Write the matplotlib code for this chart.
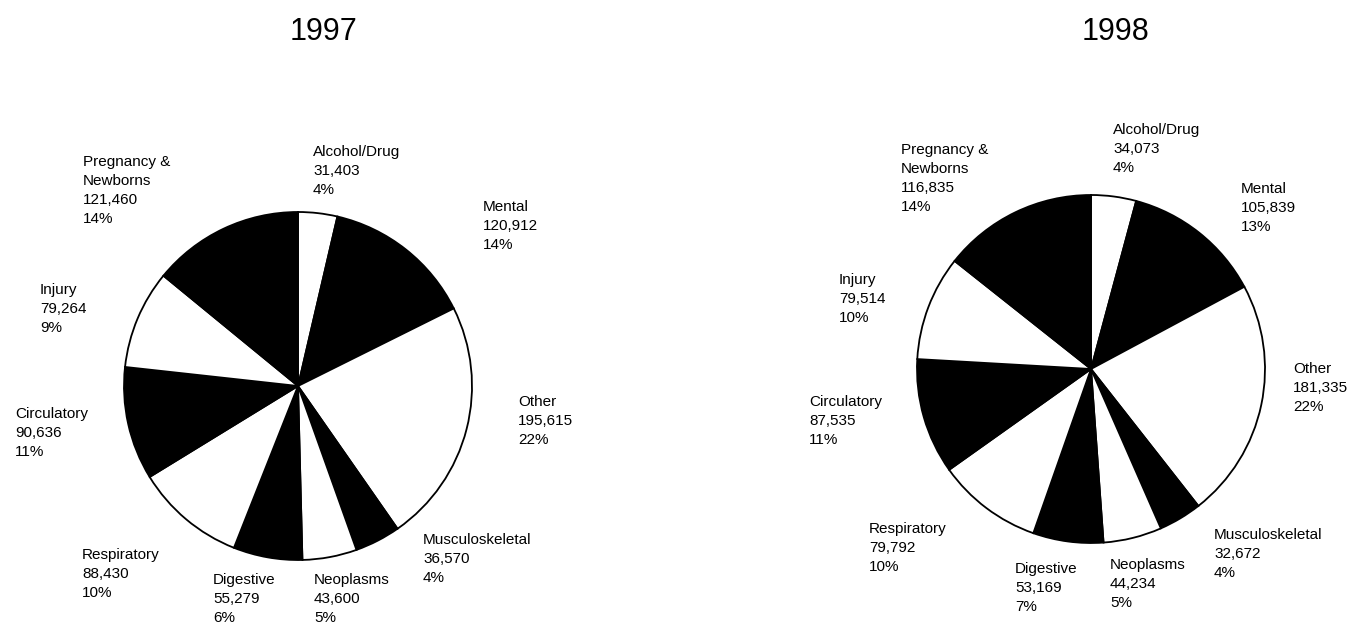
import matplotlib.pyplot as plt

plt.rcParams['font.family'] = ['Liberation Sans', 'DejaVu Sans']

W, H = 1347, 625

categories = ["Alcohol/Drug", "Mental", "Other", "Musculoskeletal", "Neoplasms",
              "Digestive", "Respiratory", "Circulatory", "Injury", "Pregnancy &\nNewborns"]
cases_1997 = [31403, 120912, 195615, 36570, 43600, 55279, 88430, 90636, 79264, 121460]
cases_1998 = [34073, 105839, 181335, 32672, 44234, 53169, 79792, 87535, 79514, 116835]
pct_1997 = [4, 14, 22, 4, 5, 6, 10, 11, 9, 14]
pct_1998 = [4, 13, 22, 4, 5, 7, 10, 11, 10, 14]
years = ["1997", "1998"]

# layout in pixels from the top-left corner
pie_centers = [(298, 386), (1091, 369)]
pie_radius = 174
title_x = [323, 1116]
label_pos = [
    [(313, 145), (483, 200), (518, 395), (423, 533), (314, 573),
     (213, 573), (82, 548), (15, 407), (40, 283), (83, 155)],
    [(1113, 123), (1241, 182), (1293, 362), (1214, 528), (1110, 558),
     (1015, 562), (869, 522), (809, 395), (839, 273), (901, 143)],
]

colors = ["white", "black"] * 5

fig = plt.figure(figsize=(W / 100, H / 100), dpi=100)
ax = fig.add_axes([0, 0, 1, 1])

for i, vals in enumerate([cases_1997, cases_1998]):
    pcts = [pct_1997, pct_1998][i]
    cx, cy = pie_centers[i]
    ax.pie(vals, colors=colors, startangle=90, counterclock=False,
           center=(cx, H - cy), radius=pie_radius, frame=True,
           wedgeprops=dict(edgecolor="black", linewidth=1.3))
    for name, v, p, (lx, ly) in zip(categories, vals, pcts, label_pos[i]):
        ax.text(lx, H - ly, f"{name}\n{v:,}\n{p}%", ha="left", va="top",
                fontsize=11, linespacing=1.45)
    ax.text(title_x[i], H - 40, years[i], ha="center", va="baseline", fontsize=22)

ax.set_xlim(0, W)
ax.set_ylim(0, H)
ax.axis("off")

fig.savefig("out.png", dpi=100, facecolor="white")
